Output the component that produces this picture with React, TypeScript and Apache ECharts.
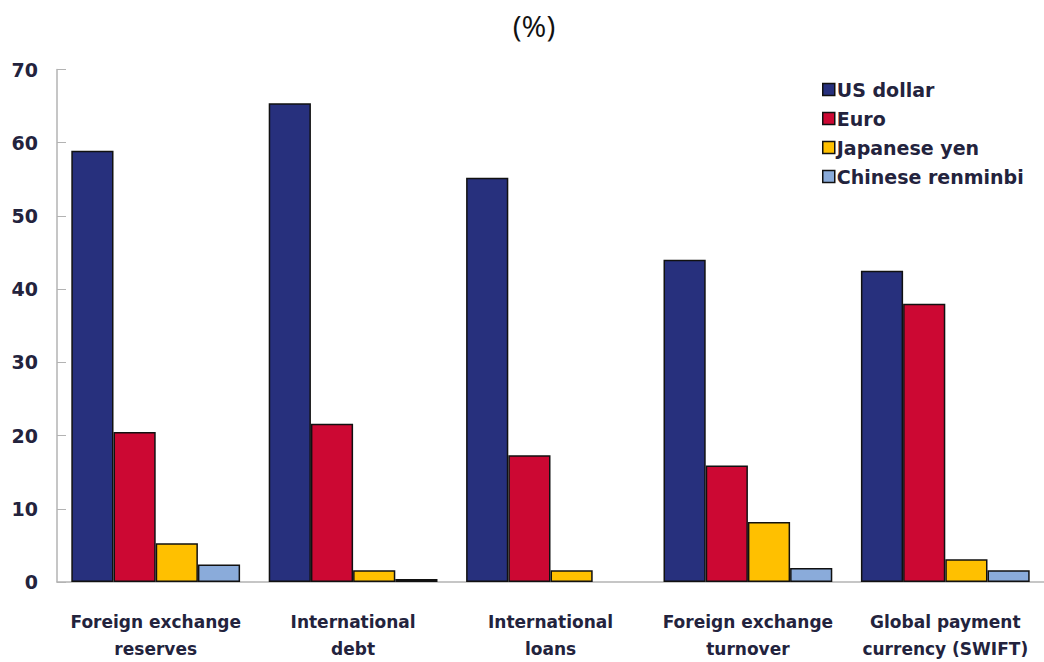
import React, { useEffect, useRef } from "react";
import * as echarts from "echarts";

const categories = [
  "Foreign exchange\nreserves",
  "International\ndebt",
  "International\nloans",
  "Foreign exchange\nturnover",
  "Global payment\ncurrency (SWIFT)",
];
const seriesNames = ["US dollar", "Euro", "Japanese yen", "Chinese renminbi"];
const usDollar = [58.9, 65.4, 55.2, 44.0, 42.5];
const euro = [20.5, 21.6, 17.3, 15.9, 38.0];
const japaneseYen = [5.3, 1.6, 1.6, 8.2, 3.1];
const chineseRenminbi = [2.4, 0.4, null, 1.9, 1.6];
const seriesValues = [usDollar, euro, japaneseYen, chineseRenminbi];
const colors = ["#27307D", "#CC0833", "#FFC000", "#8AABDA"];
const yTicks = { min: 0, max: 70, interval: 10 };

export default function App() {
  const ref = useRef<HTMLDivElement>(null);
  useEffect(() => {
    document.body.style.margin = "0";
    const chart = echarts.init(ref.current!, null, { renderer: "svg" });
    const labelColor = "#23233d";
    chart.setOption({
      animation: false,
      backgroundColor: "#ffffff",
      title: {
        text: "(%)",
        left: 529,
        textAlign: "center",
        top: 5,
        textStyle: {
          fontFamily: "Open Sans",
          fontWeight: "normal",
          fontSize: 30,
          color: "#111",
        },
      },
      legend: {
        orient: "vertical",
        left: 817,
        top: 75,
        itemWidth: 12,
        itemHeight: 12,
        itemGap: 10,
        icon: "rect",
        textStyle: {
          fontFamily: "DejaVu Sans",
          fontWeight: "bold",
          fontSize: 19,
          lineHeight: 19,
          color: labelColor,
          padding: [0, 0, 0, -3],
        },
        itemStyle: { borderColor: "#111", borderWidth: 1.5 },
      },
      grid: { left: 57, top: 69.5, bottom: 67, width: 996, containLabel: false },
      xAxis: {
        type: "category",
        data: categories,
        axisLine: { lineStyle: { color: "#b3b3b3", width: 1.5 } },
        axisTick: { inside: true, length: 6, lineStyle: { color: "#b3b3b3" } },
        axisLabel: {
          margin: 26,
          fontFamily: "DejaVu Sans",
          fontWeight: "bold",
          fontSize: 17,
          lineHeight: 27,
          color: labelColor,
          interval: 0,
        },
      },
      yAxis: {
        type: "value",
        min: yTicks.min,
        max: yTicks.max,
        interval: yTicks.interval,
        splitLine: { show: false },
        axisLine: { show: true, lineStyle: { color: "#b3b3b3", width: 1.5 } },
        axisTick: { show: true, inside: true, length: 9, lineStyle: { color: "#b3b3b3" } },
        axisLabel: {
          margin: 19,
          fontFamily: "DejaVu Sans",
          fontWeight: "bold",
          fontSize: 19,
          color: labelColor,
        },
      },
      series: seriesNames.map((name, i) => ({
        name,
        type: "bar",
        data: seriesValues[i],
        barGap: "0%",
        barCategoryGap: "14.5%",
        itemStyle: { color: colors[i], borderColor: "#111", borderWidth: 1.5 },
      })),
    });
    return () => chart.dispose();
  }, []);
  return <div ref={ref} style={{ width: 1044, height: 662 }} />;
}
